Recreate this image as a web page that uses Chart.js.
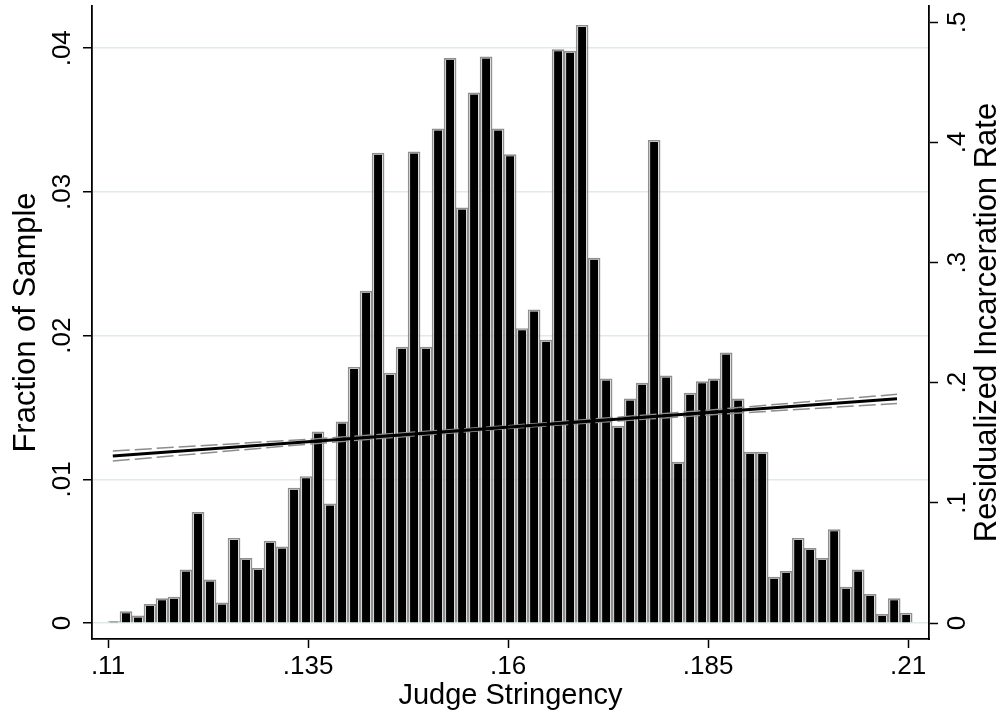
<!DOCTYPE html>
<html>
<head>
<meta charset="utf-8">
<script src="https://cdn.jsdelivr.net/npm/chart.js@4/dist/chart.umd.min.js"></script>
<style>
  html, body { margin: 0; padding: 0; background: #ffffff; }
  canvas { display: block; }
</style>
</head>
<body>
<canvas id="chart" width="1003" height="716"></canvas>
<script>
// Histogram bins of judge stringency (bin centres, width .0015)
const binCenters = [
  0.11075, 0.11225, 0.11375, 0.11525, 0.11675, 0.11825, 0.11975, 0.12125, 0.12275, 0.12425,
  0.12575, 0.12725, 0.12875, 0.13025, 0.13175, 0.13325, 0.13475, 0.13625, 0.13775, 0.13925,
  0.14075, 0.14225, 0.14375, 0.14525, 0.14675, 0.14825, 0.14975, 0.15125, 0.15275, 0.15425,
  0.15575, 0.15725, 0.15875, 0.16025, 0.16175, 0.16325, 0.16475, 0.16625, 0.16775, 0.16925,
  0.17075, 0.17225, 0.17375, 0.17525, 0.17675, 0.17825, 0.17975, 0.18125, 0.18275, 0.18425,
  0.18575, 0.18725, 0.18875, 0.19025, 0.19175, 0.19325, 0.19475, 0.19625, 0.19775, 0.19925,
  0.20075, 0.20225, 0.20375, 0.20525, 0.20675, 0.20825, 0.20975
];

// Fraction of sample in each bin
const fractionOfSample = [
  0.0001, 0.0008, 0.0005, 0.0013, 0.0017, 0.0018, 0.0037, 0.0077, 0.0030, 0.0014,
  0.0059, 0.0045, 0.0038, 0.0057, 0.0053, 0.0094, 0.0102, 0.0133, 0.0083, 0.0140,
  0.0178, 0.0231, 0.0327, 0.0174, 0.0192, 0.0328, 0.0192, 0.0344, 0.0393, 0.0289,
  0.0369, 0.0394, 0.0344, 0.0326, 0.0205, 0.0218, 0.0197, 0.0399, 0.0398, 0.0416,
  0.0254, 0.0170, 0.0137, 0.0156, 0.0167, 0.0336, 0.0172, 0.0112, 0.0160, 0.0168,
  0.0170, 0.0188, 0.0156, 0.0119, 0.0119, 0.0032, 0.0036, 0.0059, 0.0052, 0.0045,
  0.0065, 0.0025, 0.0037, 0.0020, 0.0006, 0.0017, 0.0007
];

// Linear fit of residualized incarceration rate on stringency
const fitX = [0.1106, 0.2086];
const fitRate = [0.1390, 0.1866];

// 95% confidence band around the fit
const ciX = [0.1106, 0.135, 0.16, 0.185, 0.2086];
const ciUpper = [0.1432, 0.1529, 0.1643, 0.1772, 0.1904];
const ciLower = [0.1348, 0.1489, 0.1619, 0.1732, 0.1828];

// Axis ticks
const xTickValues = [0.11, 0.135, 0.16, 0.185, 0.21];
const xTickLabels = ['.11', '.135', '.16', '.185', '.21'];
const leftTickValues = [0, 0.01, 0.02, 0.03, 0.04];
const leftTickLabels = ['0', '.01', '.02', '.03', '.04'];
const rightTickValues = [0, 0.1, 0.2, 0.3, 0.4, 0.5];
const rightTickLabels = ['0', '.1', '.2', '.3', '.4', '.5'];

const FONT = '"Liberation Sans", Arial, Helvetica, sans-serif';
const TICK_SIZE = 26;
const TITLE_SIZE = 29;
const SIDE_TITLE_SIZE = 31;
const AXIS_W = 1.8;
const GRID_COLOR = '#e0e9ec';

Chart.defaults.font.family = FONT;
Chart.defaults.color = '#000000';

function pickLabel(values, labels) {
  return (value) => {
    const i = values.findIndex(v => Math.abs(v - value) < 1e-9);
    return i >= 0 ? labels[i] : '';
  };
}

// Keep rotated end labels from shrinking the plot region
function noEdgePadding(s) {
  s.paddingTop = 0;
  s.paddingBottom = 0;
  s.paddingLeft = 0;
  s.paddingRight = 0;
}

// Right-hand axis title, reading bottom to top like the left one
const rightAxisTitle = {
  id: 'rightAxisTitle',
  afterDraw(chart) {
    const { ctx, chartArea } = chart;
    const scale = chart.scales.y1;
    ctx.save();
    ctx.translate(scale.right - 16, (chartArea.top + chartArea.bottom) / 2);
    ctx.rotate(-Math.PI / 2);
    ctx.font = `${SIDE_TITLE_SIZE}px ${FONT}`;
    ctx.fillStyle = '#000000';
    ctx.textAlign = 'center';
    ctx.textBaseline = 'middle';
    ctx.fillText('Residualized Incarceration Rate', 0, 0);
    ctx.restore();
  }
};

const histPoints = binCenters.map((x, i) => ({ x, y: fractionOfSample[i] }));

new Chart(document.getElementById('chart'), {
  type: 'bar',
  data: {
    datasets: [
      {
        type: 'line',
        label: 'Fit',
        data: fitX.map((x, i) => ({ x, y: fitRate[i] })),
        yAxisID: 'y1',
        borderColor: '#000000',
        borderWidth: 3,
        pointRadius: 0,
        order: 0
      },
      {
        type: 'line',
        label: 'Upper bound',
        data: ciX.map((x, i) => ({ x, y: ciUpper[i] })),
        yAxisID: 'y1',
        borderColor: '#8c8c8c',
        borderWidth: 1.5,
        borderDash: [17, 5],
        pointRadius: 0,
        order: 1
      },
      {
        type: 'line',
        label: 'Lower bound',
        data: ciX.map((x, i) => ({ x, y: ciLower[i] })),
        yAxisID: 'y1',
        borderColor: '#8c8c8c',
        borderWidth: 1.5,
        borderDash: [17, 5],
        pointRadius: 0,
        order: 1
      },
      {
        label: 'Bar outline',
        data: histPoints,
        yAxisID: 'y',
        backgroundColor: 'rgba(0,0,0,0)',
        borderColor: '#8f8f8f',
        borderWidth: { top: 1, left: 1, right: 1, bottom: 0 },
        borderSkipped: false,
        barThickness: 12,
        grouped: false,
        order: 2
      },
      {
        label: 'Fraction of Sample',
        data: histPoints,
        yAxisID: 'y',
        backgroundColor: '#000000',
        borderColor: '#ffffff',
        borderWidth: { top: 2, left: 0, right: 0, bottom: 0 },
        borderSkipped: false,
        barThickness: 8,
        grouped: false,
        order: 3
      }
    ]
  },
  options: {
    responsive: false,
    animation: false,
    devicePixelRatio: 1,
    layout: { padding: { top: 6, left: 0, right: 0, bottom: 0 } },
    plugins: {
      legend: { display: false },
      tooltip: { enabled: false }
    },
    scales: {
      x: {
        type: 'linear',
        position: 'bottom',
        min: 0.108,
        max: 0.2126,
        offset: false,
        afterBuildTicks: (s) => { s.ticks = xTickValues.map(v => ({ value: v })); },
        afterFit: (s) => { s.height = 77; noEdgePadding(s); },
        ticks: {
          font: { size: TICK_SIZE },
          padding: 3,
          autoSkip: false,
          maxRotation: 0,
          callback: pickLabel(xTickValues, xTickLabels)
        },
        grid: {
          drawOnChartArea: false,
          offset: false,
          tickLength: 9,
          tickColor: '#000000',
          tickWidth: 1.5
        },
        border: { color: '#000000', width: AXIS_W },
        title: {
          display: true,
          text: 'Judge Stringency',
          font: { size: TITLE_SIZE },
          padding: { top: 0, bottom: 3 }
        }
      },
      y: {
        type: 'linear',
        position: 'left',
        min: -0.00111,
        max: 0.04294,
        afterBuildTicks: (s) => { s.ticks = leftTickValues.map(v => ({ value: v })); },
        afterFit: (s) => { s.width = 92; noEdgePadding(s); },
        ticks: {
          font: { size: TICK_SIZE },
          padding: 2,
          minRotation: 90,
          maxRotation: 90,
          crossAlign: 'center',
          autoSkip: false,
          callback: pickLabel(leftTickValues, leftTickLabels)
        },
        grid: {
          color: GRID_COLOR,
          lineWidth: 1.5,
          tickLength: 9,
          tickColor: '#000000',
          tickWidth: 1.5
        },
        border: { color: '#000000', width: AXIS_W },
        title: {
          display: true,
          text: 'Fraction of Sample',
          font: { size: SIDE_TITLE_SIZE },
          padding: { top: 8, bottom: 0 }
        }
      },
      y1: {
        type: 'linear',
        position: 'right',
        min: -0.0133,
        max: 0.5136,
        afterBuildTicks: (s) => { s.ticks = rightTickValues.map(v => ({ value: v })); },
        afterFit: (s) => { s.width = 74; noEdgePadding(s); },
        ticks: {
          font: { size: TICK_SIZE },
          padding: 9,
          minRotation: 90,
          maxRotation: 90,
          crossAlign: 'center',
          autoSkip: false,
          callback: pickLabel(rightTickValues, rightTickLabels)
        },
        grid: {
          drawOnChartArea: false,
          tickLength: 9,
          tickColor: '#000000',
          tickWidth: 1.5
        },
        border: { color: '#000000', width: AXIS_W }
      }
    }
  },
  plugins: [rightAxisTitle]
});
</script>
</body>
</html>
